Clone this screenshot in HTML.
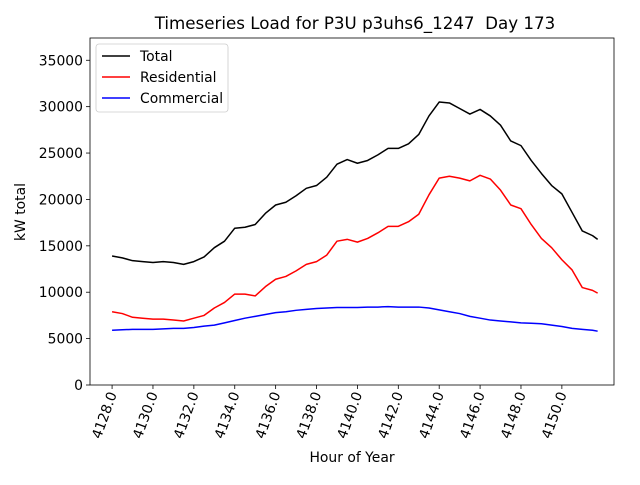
<!DOCTYPE html>
<html><head><meta charset="utf-8"><style>
body{margin:0;background:#fff}
svg{font-family:"DejaVu Sans","Liberation Sans",sans-serif}
</style></head><body>
<svg id="chart" width="640" height="480">
<rect width="640" height="480" fill="#fff"/>
<text x="355" y="29" text-anchor="middle" font-size="16.7">Timeseries Load for P3U p3uhs6_1247&#160; Day 173</text>
<g id="plot"></g>
<text x="352" y="462" text-anchor="middle" font-size="13.9">Hour of Year</text>
<text x="0" y="0" transform="translate(25,212) rotate(-90)" text-anchor="middle" font-size="13.9">kW total</text>
</svg>
<script>
const hours=[4128,4128.5,4129,4129.5,4130,4130.5,4131,4131.5,4132,4132.5,4133,4133.5,4134,4134.5,4135,4135.5,4136,4136.5,4137,4137.5,4138,4138.5,4139,4139.5,4140,4140.5,4141,4141.5,4142,4142.5,4143,4143.5,4144,4144.5,4145,4145.5,4146,4146.5,4147,4147.5,4148,4148.5,4149,4149.5,4150,4150.5,4151,4151.5,4151.75];
const total=[13900,13700,13400,13300,13200,13300,13200,13000,13300,13800,14800,15500,16900,17000,17300,18500,19400,19700,20400,21200,21500,22400,23800,24300,23900,24200,24800,25500,25500,26000,27000,29000,30500,30400,29800,29200,29700,29000,28000,26300,25800,24200,22800,21500,20600,18600,16600,16100,15700];
const residential=[7900,7700,7300,7200,7100,7100,7000,6900,7200,7500,8300,8900,9800,9800,9600,10600,11400,11700,12300,13000,13300,14000,15500,15700,15400,15800,16400,17100,17100,17600,18400,20500,22300,22500,22300,22000,22600,22200,21000,19400,19000,17300,15800,14800,13500,12400,10500,10200,9900];
const commercial=[5900,5950,6000,6000,6000,6050,6100,6100,6200,6350,6450,6700,6950,7200,7400,7600,7800,7900,8050,8150,8250,8300,8350,8350,8350,8400,8400,8450,8400,8400,8400,8300,8100,7900,7700,7400,7200,7000,6900,6800,6700,6650,6600,6450,6300,6100,6000,5900,5800];
const xTicks=[4128,4130,4132,4134,4136,4138,4140,4142,4144,4146,4148,4150];
const yTicks=[0,5000,10000,15000,20000,25000,30000,35000];
const L=90,R=614,T=38,B=385,XMIN=4126.92,XMAX=4152.55,YMIN=0,YMAX=37400;
const xs=v=>L+(v-XMIN)/(XMAX-XMIN)*(R-L);
const ys=v=>B-(v-YMIN)/(YMAX-YMIN)*(B-T);
const NS="http://www.w3.org/2000/svg";
const g=document.getElementById('plot');
function mk(t,a,p){const e=document.createElementNS(NS,t);for(const k in a)e.setAttribute(k,a[k]);(p||g).appendChild(e);return e;}
yTicks.forEach(v=>{
 const y=ys(v);
 const l=mk('line',{x1:L-4,x2:L,y1:y,y2:y,stroke:'#000','stroke-width':0.8});
 
 
 const t=mk('text',{x:L-7,y:y+5,'text-anchor':'end','font-size':13.9});
 t.textContent=v;
 
 
});
xTicks.forEach(v=>{
 const x=xs(v);
 const l=mk('line',{x1:x,x2:x,y1:B,y2:B+4,stroke:'#000','stroke-width':0.8});
 
 
 const t=mk('text',{x:0,y:0,'text-anchor':'end','font-size':13.9,transform:`translate(${x+5},${B+9}) rotate(-70)`});
 t.textContent=v.toFixed(1);
 
 
});
function series(arr,color,name){
 const p=mk('polyline',{points:arr.map((v,i)=>xs(hours[i])+','+ys(v)).join(' '),fill:'none',stroke:color,'stroke-width':1.5,'stroke-linejoin':'round'});
 
 
}
series(total,'#000','total-line');
series(residential,'#f00','residential-line');
series(commercial,'#00f','commercial-line');
const fr=mk('rect',{x:L,y:T,width:R-L,height:B-T,fill:'none',stroke:'#000','stroke-width':0.8});


const lg=mk('g',{});


mk('rect',{x:96,y:44,width:132,height:68,rx:3,fill:'#fff','fill-opacity':0.8,stroke:'#ccc','stroke-width':0.8},lg);
[['Total','#000'],['Residential','#f00'],['Commercial','#00f']].forEach((e,i)=>{
 const y=56+i*21;
 const ln=mk('line',{x1:102,x2:130,y1:y,y2:y,stroke:e[1],'stroke-width':1.5},lg);
 
 
 const t=mk('text',{x:140,y:y+5,'font-size':13.9},lg);
 t.textContent=e[0];
 
 
});
</script>
</body></html>
